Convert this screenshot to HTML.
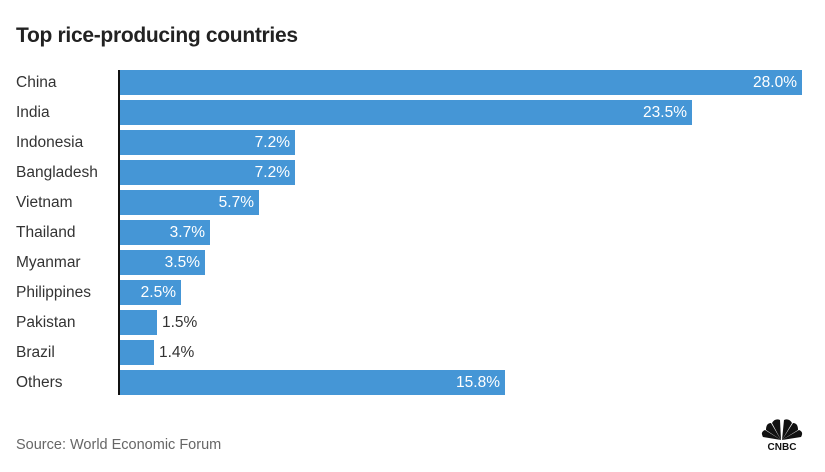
<!DOCTYPE html>
<html><head><style>
body{margin:0;background:#fff;font-family:"Liberation Sans",sans-serif;}
.wrap{position:relative;width:825px;height:472px;overflow:hidden;}
.t{position:absolute;left:16px;top:24px;font-size:21px;font-weight:bold;color:#222;letter-spacing:-0.3px}
.lab{position:absolute;left:16px;font-size:15.5px;color:#333;height:25px;line-height:26px}
.bar{position:absolute;left:120px;height:25px;background:#4596d6;color:#fff;font-size:15.5px;line-height:26px;text-align:right;box-sizing:border-box;padding-right:5px}
.out{position:absolute;font-size:15.5px;color:#333;line-height:26px;height:25px}
.axis{position:absolute;left:118px;top:70px;width:2px;height:325px;background:#111}
.src{position:absolute;left:16px;top:437px;font-size:14.5px;color:#666}
</style></head><body><div class="wrap">
<div class="t">Top rice-producing countries</div>
<div class="lab" style="top:70px">China</div><div class="bar" style="top:70px;width:682px">28.0%</div>
<div class="lab" style="top:100px">India</div><div class="bar" style="top:100px;width:572px">23.5%</div>
<div class="lab" style="top:130px">Indonesia</div><div class="bar" style="top:130px;width:175px">7.2%</div>
<div class="lab" style="top:160px">Bangladesh</div><div class="bar" style="top:160px;width:175px">7.2%</div>
<div class="lab" style="top:190px">Vietnam</div><div class="bar" style="top:190px;width:139px">5.7%</div>
<div class="lab" style="top:220px">Thailand</div><div class="bar" style="top:220px;width:90px">3.7%</div>
<div class="lab" style="top:250px">Myanmar</div><div class="bar" style="top:250px;width:85px">3.5%</div>
<div class="lab" style="top:280px">Philippines</div><div class="bar" style="top:280px;width:61px">2.5%</div>
<div class="lab" style="top:310px">Pakistan</div><div class="bar" style="top:310px;width:37px"></div><div class="out" style="top:310px;left:162px">1.5%</div>
<div class="lab" style="top:340px">Brazil</div><div class="bar" style="top:340px;width:34px"></div><div class="out" style="top:340px;left:159px">1.4%</div>
<div class="lab" style="top:370px">Others</div><div class="bar" style="top:370px;width:385px">15.8%</div>
<div class="axis"></div>
<div class="src">Source: World Economic Forum</div>
<svg style="position:absolute;left:759px;top:418px" width="46" height="36" viewBox="0 0 46 36">
<g fill="#111">
<path d="M22 22 L4 19 Q1 14 6 12 Z"/>
<path d="M22 22 L7 12 Q7 5 12 5 Z"/>
<path d="M22 22 L13 5 Q16 0 21 2 Z"/>
<path d="M23 22 L25 2 Q30 0 33 5 Z"/>
<path d="M23 22 L34 5 Q39 5 39 12 Z"/>
<path d="M23 22 L40 12 Q45 14 42 19 Z"/>
</g>
<g stroke="#fff" stroke-width="1"><line x1="22.5" y1="22" x2="22.5" y2="0"/></g>
<text x="23" y="32" font-family="Liberation Sans" font-weight="bold" font-size="10" text-anchor="middle" fill="#111">CNBC</text>
</svg>
</div></body></html>
